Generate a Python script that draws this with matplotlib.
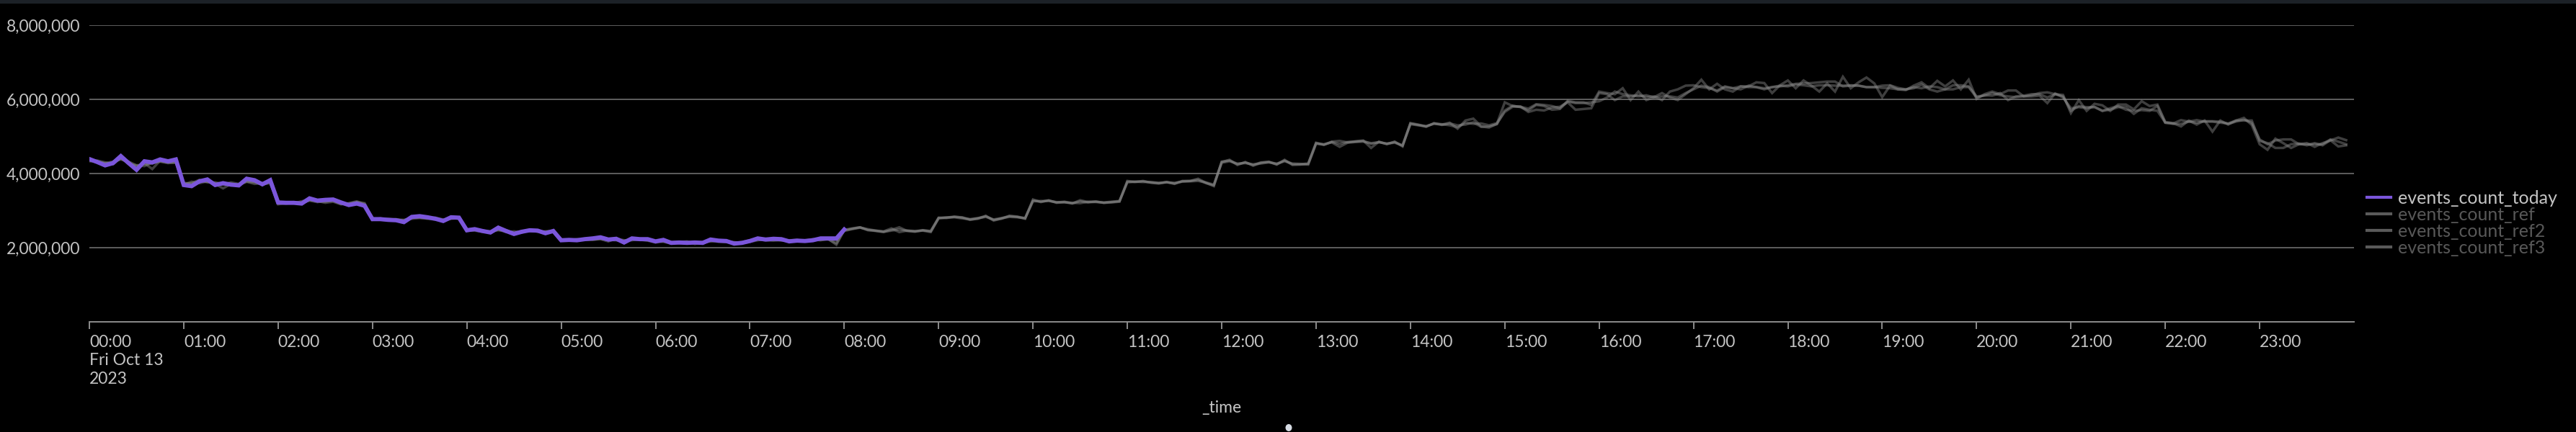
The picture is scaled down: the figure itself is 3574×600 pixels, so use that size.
import matplotlib
matplotlib.use('Agg')

import matplotlib.pyplot as plt
from matplotlib.lines import Line2D
from matplotlib.patches import Rectangle, Ellipse
import pandas as pd

plt.rcParams['font.family'] = ['Lato', 'DejaVu Sans']

# 5-minute buckets for Fri Oct 13 2023, values in millions of events
series_names = ['events_count_today', 'events_count_ref', 'events_count_ref2', 'events_count_ref3']

hour_labels = ['00:00\nFri Oct 13\n2023', '01:00', '02:00', '03:00', '04:00', '05:00',
               '06:00', '07:00', '08:00', '09:00', '10:00', '11:00', '12:00', '13:00',
               '14:00', '15:00', '16:00', '17:00', '18:00', '19:00', '20:00', '21:00',
               '22:00', '23:00']

y_ticks = [2e6, 4e6, 6e6, 8e6]
y_tick_labels = ['2,000,000', '4,000,000', '6,000,000', '8,000,000']

today = [
    4.39, 4.31, 4.22, 4.28, 4.47, 4.28, 4.10, 4.33, 4.30, 4.38, 4.33, 4.38,
    3.69, 3.66, 3.79, 3.84, 3.69, 3.74, 3.70, 3.68, 3.86, 3.82, 3.71, 3.82,
    3.22, 3.21, 3.21, 3.19, 3.33, 3.27, 3.29, 3.30, 3.22, 3.15, 3.19, 3.13,
    2.77, 2.77, 2.75, 2.74, 2.69, 2.83, 2.85, 2.82, 2.78, 2.72, 2.82, 2.81,
    2.47, 2.50, 2.45, 2.41, 2.54, 2.45, 2.37, 2.43, 2.47, 2.46, 2.39, 2.45,
    2.20, 2.21, 2.20, 2.23, 2.25, 2.28, 2.22, 2.24, 2.14, 2.25, 2.23, 2.23,
    2.17, 2.21, 2.13, 2.14, 2.13, 2.14, 2.13, 2.22, 2.19, 2.18, 2.11, 2.13,
    2.18, 2.25, 2.22, 2.24, 2.23, 2.17, 2.19, 2.18, 2.20, 2.25, 2.25, 2.25,
    2.49,
]

ref1 = [
    4.36, 4.33, 4.27, 4.30, 4.40, 4.30, 4.18, 4.28, 4.12, 4.35, 4.30, 4.32,
    3.75, 3.72, 3.80, 3.78, 3.74, 3.70, 3.76, 3.72, 3.80, 3.78, 3.70, 3.76,
    3.19, 3.22, 3.20, 3.25, 3.30, 3.25, 3.24, 3.28, 3.20, 3.17, 3.22, 3.15,
    2.75, 2.79, 2.76, 2.77, 2.72, 2.80, 2.83, 2.80, 2.79, 2.75, 2.80, 2.78,
    2.45, 2.48, 2.47, 2.40, 2.50, 2.47, 2.40, 2.45, 2.44, 2.45, 2.41, 2.43,
    2.22, 2.19, 2.22, 2.21, 2.23, 2.25, 2.20, 2.22, 2.17, 2.22, 2.21, 2.20,
    2.16, 2.19, 2.15, 2.12, 2.15, 2.13, 2.11, 2.20, 2.18, 2.16, 2.13, 2.15,
    2.20, 2.23, 2.21, 2.22, 2.21, 2.19, 2.18, 2.20, 2.21, 2.23, 2.22, 2.12,
    2.47, 2.51, 2.55, 2.48, 2.45, 2.42, 2.48, 2.55, 2.45, 2.43, 2.47, 2.44,
    2.81, 2.81, 2.84, 2.81, 2.75, 2.79, 2.86, 2.73, 2.79, 2.86, 2.84, 2.79,
    3.30, 3.23, 3.28, 3.21, 3.23, 3.19, 3.28, 3.23, 3.25, 3.21, 3.23, 3.25,
    3.80, 3.77, 3.80, 3.75, 3.73, 3.77, 3.72, 3.80, 3.80, 3.86, 3.75, 3.66,
    4.31, 4.37, 4.23, 4.31, 4.21, 4.29, 4.32, 4.24, 4.37, 4.23, 4.24, 4.26,
    4.82, 4.77, 4.86, 4.88, 4.84, 4.87, 4.89, 4.69, 4.86, 4.79, 4.86, 4.73,
    5.35, 5.31, 5.26, 5.36, 5.32, 5.37, 5.21, 5.43, 5.48, 5.27, 5.24, 5.34,
    5.92, 5.82, 5.80, 5.75, 5.87, 5.85, 5.82, 5.76, 5.96, 5.92, 5.92, 5.85,
    6.21, 6.17, 6.14, 6.30, 5.98, 6.21, 5.98, 6.06, 6.17, 6.05, 5.98, 6.14,
    6.30, 6.53, 6.27, 6.42, 6.27, 6.21, 6.35, 6.35, 6.46, 6.44, 6.17, 6.38,
    6.51, 6.30, 6.51, 6.37, 6.21, 6.43, 6.21, 6.61, 6.30, 6.46, 6.59, 6.43,
    6.06, 6.37, 6.27, 6.25, 6.37, 6.46, 6.30, 6.50, 6.35, 6.51, 6.27, 6.53,
    6.01, 6.14, 6.21, 6.14, 6.24, 6.24, 6.08, 6.11, 6.17, 6.19, 6.14, 6.12,
    5.63, 5.98, 5.69, 5.88, 5.84, 5.69, 5.86, 5.86, 5.73, 5.95, 5.82, 5.86,
    5.39, 5.36, 5.27, 5.43, 5.32, 5.43, 5.13, 5.43, 5.32, 5.43, 5.50, 5.31,
    4.79, 4.64, 4.94, 4.82, 4.69, 4.79, 4.82, 4.72, 4.82, 4.89, 4.97, 4.90,
]

ref2 = [
    4.33, 4.35, 4.30, 4.25, 4.42, 4.26, 4.22, 4.20, 4.30, 4.32, 4.28, 4.30,
    3.70, 3.78, 3.74, 3.79, 3.72, 3.60, 3.72, 3.69, 3.78, 3.72, 3.74, 3.79,
    3.17, 3.20, 3.23, 3.20, 3.28, 3.26, 3.21, 3.24, 3.17, 3.20, 3.25, 3.18,
    2.79, 2.76, 2.78, 2.75, 2.74, 2.82, 2.81, 2.78, 2.76, 2.74, 2.78, 2.80,
    2.49, 2.46, 2.43, 2.43, 2.49, 2.42, 2.44, 2.41, 2.48, 2.43, 2.44, 2.46,
    2.19, 2.22, 2.20, 2.24, 2.22, 2.23, 2.17, 2.25, 2.20, 2.20, 2.24, 2.21,
    2.18, 2.16, 2.11, 2.15, 2.17, 2.10, 2.15, 2.17, 2.20, 2.17, 2.15, 2.12,
    2.16, 2.20, 2.24, 2.21, 2.19, 2.20, 2.21, 2.17, 2.22, 2.20, 2.24, 2.20,
    2.45, 2.50, 2.54, 2.50, 2.46, 2.44, 2.52, 2.42, 2.46, 2.45, 2.46, 2.42,
    2.79, 2.82, 2.82, 2.79, 2.77, 2.80, 2.83, 2.76, 2.80, 2.83, 2.82, 2.80,
    3.25, 3.26, 3.26, 3.23, 3.22, 3.21, 3.20, 3.24, 3.23, 3.22, 3.24, 3.26,
    3.76, 3.78, 3.77, 3.77, 3.75, 3.76, 3.75, 3.78, 3.79, 3.80, 3.76, 3.70,
    4.29, 4.33, 4.27, 4.28, 4.25, 4.27, 4.30, 4.27, 4.33, 4.27, 4.26, 4.24,
    4.80, 4.79, 4.84, 4.72, 4.83, 4.85, 4.86, 4.82, 4.84, 4.81, 4.83, 4.76,
    5.33, 5.30, 5.28, 5.34, 5.33, 5.30, 5.25, 5.37, 5.34, 5.35, 5.30, 5.36,
    5.66, 5.80, 5.81, 5.66, 5.72, 5.70, 5.78, 5.80, 5.92, 5.72, 5.74, 5.76,
    6.17, 6.14, 5.98, 6.08, 6.08, 6.11, 6.06, 6.08, 5.98, 6.21, 6.27, 6.37,
    6.38, 6.33, 6.30, 6.24, 6.35, 6.30, 6.27, 6.37, 6.33, 6.27, 6.33, 6.35,
    6.38, 6.42, 6.43, 6.44, 6.46, 6.48, 6.48, 6.35, 6.37, 6.37, 6.33, 6.33,
    6.31, 6.30, 6.27, 6.27, 6.30, 6.40, 6.27, 6.21, 6.27, 6.27, 6.33, 6.33,
    6.05, 6.11, 6.10, 6.17, 5.98, 6.08, 6.10, 6.14, 6.14, 6.05, 6.14, 6.08,
    5.69, 5.82, 5.79, 5.79, 5.69, 5.72, 5.79, 5.79, 5.61, 5.76, 5.72, 5.69,
    5.37, 5.35, 5.44, 5.40, 5.44, 5.40, 5.40, 5.37, 5.35, 5.43, 5.43, 5.43,
    4.88, 4.82, 4.69, 4.69, 4.79, 4.81, 4.76, 4.82, 4.76, 4.90, 4.73, 4.76,
]

ref3 = [
    4.35, 4.30, 4.28, 4.32, 4.38, 4.32, 4.22, 4.25, 4.27, 4.33, 4.30, 4.29,
    3.72, 3.74, 3.83, 3.76, 3.76, 3.72, 3.68, 3.71, 3.78, 3.76, 3.72, 3.74,
    3.21, 3.19, 3.22, 3.22, 3.27, 3.23, 3.26, 3.26, 3.18, 3.19, 3.23, 3.20,
    2.77, 2.78, 2.74, 2.76, 2.75, 2.78, 2.80, 2.79, 2.81, 2.76, 2.79, 2.79,
    2.46, 2.49, 2.45, 2.44, 2.47, 2.45, 2.39, 2.44, 2.46, 2.44, 2.43, 2.44,
    2.21, 2.20, 2.23, 2.22, 2.21, 2.24, 2.21, 2.20, 2.19, 2.23, 2.22, 2.19,
    2.14, 2.17, 2.14, 2.16, 2.14, 2.15, 2.13, 2.18, 2.16, 2.15, 2.14, 2.14,
    2.18, 2.22, 2.20, 2.19, 2.22, 2.18, 2.20, 2.19, 2.23, 2.21, 2.23, 2.08,
    2.48, 2.52, 2.55, 2.47, 2.46, 2.43, 2.46, 2.49, 2.46, 2.44, 2.47, 2.45,
    2.80, 2.80, 2.83, 2.82, 2.76, 2.78, 2.85, 2.75, 2.78, 2.85, 2.83, 2.78,
    3.27, 3.24, 3.27, 3.22, 3.24, 3.20, 3.25, 3.22, 3.24, 3.21, 3.22, 3.24,
    3.78, 3.78, 3.79, 3.76, 3.74, 3.77, 3.73, 3.79, 3.80, 3.83, 3.74, 3.68,
    4.32, 4.35, 4.25, 4.30, 4.23, 4.30, 4.31, 4.25, 4.35, 4.25, 4.25, 4.27,
    4.83, 4.78, 4.85, 4.80, 4.85, 4.86, 4.88, 4.80, 4.85, 4.80, 4.85, 4.75,
    5.36, 5.32, 5.27, 5.35, 5.31, 5.35, 5.30, 5.32, 5.38, 5.26, 5.27, 5.33,
    5.70, 5.83, 5.79, 5.70, 5.85, 5.82, 5.72, 5.74, 5.94, 5.90, 5.90, 5.92,
    5.95, 6.05, 6.21, 6.14, 6.11, 6.08, 6.11, 6.05, 6.08, 6.08, 6.05, 6.17,
    6.27, 6.37, 6.33, 6.21, 6.33, 6.30, 6.35, 6.33, 6.33, 6.30, 6.33, 6.37,
    6.35, 6.40, 6.38, 6.35, 6.38, 6.38, 6.37, 6.37, 6.38, 6.37, 6.33, 6.33,
    6.37, 6.38, 6.31, 6.27, 6.33, 6.30, 6.35, 6.33, 6.27, 6.38, 6.38, 6.35,
    6.08, 6.10, 6.17, 6.11, 6.08, 6.06, 6.08, 6.08, 6.10, 5.90, 6.16, 6.05,
    5.76, 5.79, 5.76, 5.80, 5.69, 5.76, 5.82, 5.72, 5.69, 5.71, 5.69, 5.82,
    5.37, 5.34, 5.34, 5.40, 5.37, 5.41, 5.41, 5.40, 5.34, 5.40, 5.45, 5.37,
    4.92, 4.79, 4.89, 4.92, 4.92, 4.79, 4.79, 4.79, 4.79, 4.92, 4.86, 4.79,
]

times = pd.date_range('2023-10-13 00:00', periods=288, freq='5min')
hours = pd.date_range('2023-10-13 00:00', periods=24, freq='h')

W, H = 3574, 600
fig = plt.figure(figsize=(W / 100, H / 100), dpi=100, facecolor='black')
ax = fig.add_axes([124 / W, 153 / H, 3142 / W, 412 / H])
ax.set_facecolor('black')

for vals in (ref1, ref2, ref3):
    ax.plot(times[:len(vals)], [v * 1e6 for v in vals], color='#8a8a8a', alpha=0.45,
            lw=2.5, solid_joinstyle='miter')
ax.plot(times[:len(today)], [v * 1e6 for v in today], color='#7b56db', lw=4.2,
        solid_joinstyle='miter')

ax.set_ylim(0, 8e6)
ax.set_xlim(pd.Timestamp('2023-10-13 00:00'), pd.Timestamp('2023-10-14 00:00'))
ax.set_yticks(y_ticks)
ax.set_yticklabels(y_tick_labels)
ax.set_xticks(hours)
ax.set_xticklabels(hour_labels, ha='left', linespacing=1.25)
ax.grid(axis='y', color='#5e5e5e', lw=1.4)
ax.set_axisbelow(True)

for side in ('top', 'right', 'left'):
    ax.spines[side].set_visible(False)
ax.spines['bottom'].set_color('#8c8c8c')
ax.spines['bottom'].set_linewidth(1.4)

ax.tick_params(axis='x', length=7, width=1.4, color='#8c8c8c', pad=6,
               labelcolor='#c4c4c4', labelsize=16.5)
ax.tick_params(axis='y', length=0, pad=9, labelcolor='#c4c4c4', labelsize=16.5)

fig.text(1695 / W, 1 - 567 / H, '_time', ha='center', va='center', color='#c4c4c4', fontsize=16.5)

handles = [Line2D([], [], color='#7b56db', lw=3)] + \
          [Line2D([], [], color='#5a5a5a', lw=3) for _ in range(3)]
fig.legend(handles, series_names, loc='center left', bbox_to_anchor=(3284 / W, 1 - 310 / H),
           frameon=False, fontsize=18, handlelength=1.3, handletextpad=0.42,
           labelspacing=0.0, borderpad=0, borderaxespad=0,
           labelcolor=['#c4c4c4', '#585858', '#585858', '#585858'])

# top frame strip and the little page dot under the axis title
fig.add_artist(Rectangle((0, 1 - 5 / H), 1, 5 / H, transform=fig.transFigure,
                         color='#1c2127', lw=0))
fig.add_artist(Ellipse((1788 / W, 1 - 594 / H), 9 / W, 10 / H, transform=fig.transFigure,
                       color='#d6dbe3', lw=0))

fig.savefig('out.png', dpi=100, facecolor='black')
plt.close()
